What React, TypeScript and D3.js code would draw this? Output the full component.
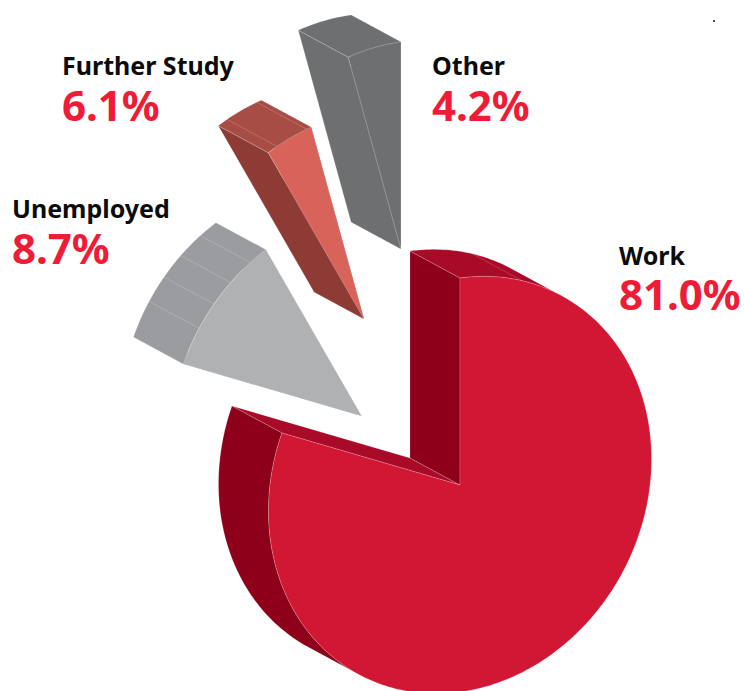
import React from 'react';
import * as d3 from 'd3';

// values printed on the chart
const categories = ['Work', 'Unemployed', 'Further Study', 'Other'];
const printedValues = ['81.0%', '8.7%', '6.1%', '4.2%'];
// sweep of each slice as actually drawn in the picture (share of the circle)
const drawnShares = [81, 10.67, 3.89, 4.44];

// rim facet lines, degrees clockwise from the top
const facetAngles = [
  [19],
  [302, 309.6, 316.9, 324.5],
  [333, 342.6],
  [],
];

const topColors = ['#d11733', '#b0b1b3', '#d8635a', '#6e6f71'];
const rimColors = ['#8e001a', '#9b9c9f', '#a84d45', '#6e6f71'];
const rimAltColors = ['#a90a28', '#9b9c9f', '#a84d45', '#6e6f71'];
const startWallColors = ['#8e001a', '#8b8c8f', '#8e3b35', '#6e6f71'];
const endWallColors = ['#a90a28', '#8b8c8f', '#8e3b35', '#6e6f71'];

const width = 744;
const height = 691;
const center = { x: 460, y: 485 };
const explode = [
  [0, 0],
  [-98.5, -69],
  [-96, -166],
  [-59, -236],
];
const depth = { x: -50, y: -27 };
// axes of the tilted circle
const right = { x: 191.5, y: -26 };
const up = { x: 0, y: -207 };
// the part of the rim that faces the viewer
const rimFrom = 212;
const rimTo = 392;

const labelPos = [
  { x: 619, name: 265, value: 310 },
  { x: 12, name: 218, value: 264 },
  { x: 62, name: 75, value: 121 },
  { x: 432, name: 75, value: 121 },
];

const rad = d3.scaleLinear().domain([0, 360]).range([0, 2 * Math.PI]);
const deg = d3.scaleLinear().domain([0, 2 * Math.PI]).range([0, 360]);

const slices = d3
  .pie<number>()
  .sort(null)
  .startAngle(0)
  .endAngle(2 * Math.PI)(drawnShares);

const line = d3
  .line<[number, number]>()
  .x((d) => d[0])
  .y((d) => d[1]);

function sweep(from: number, to: number): number[] {
  const n = Math.max(2, Math.ceil(to - from));
  return d3.range(n + 1).map((i) => from + ((to - from) * i) / n);
}

function project(a: number, ox: number, oy: number): [number, number] {
  const s = Math.sin(rad(a));
  const c = Math.cos(rad(a));
  return [ox + s * right.x + c * up.x, oy + s * right.y + c * up.y];
}

const edge = { stroke: '#fff', strokeOpacity: 0.3, strokeWidth: 0.6 };

function Slice({ i }: { i: number }) {
  const start = deg(slices[i].startAngle);
  const end = deg(slices[i].endAngle);
  const ox = center.x + explode[i][0];
  const oy = center.y + explode[i][1];
  const bx = ox + depth.x;
  const by = oy + depth.y;
  const apex: [number, number] = [ox, oy];
  const backApex: [number, number] = [bx, by];

  const wall = (a: number) =>
    `${line([apex, project(a, ox, oy), project(a, bx, by), backApex])}Z`;
  const rim = (from: number, to: number) =>
    `${line([
      ...sweep(from, to).map((a) => project(a, ox, oy)),
      ...sweep(from, to)
        .reverse()
        .map((a) => project(a, bx, by)),
    ])}Z`;
  const top = `${line([apex, ...sweep(start, end).map((a) => project(a, ox, oy))])}Z`;

  const mainFrom = Math.max(start, rimFrom);
  const altTo = rimTo - 360;

  return (
    <g>
      <path d={wall(end)} fill={endWallColors[i]} {...edge} />
      <path d={wall(start)} fill={startWallColors[i]} {...edge} />
      {start < altTo && <path d={rim(start, altTo)} fill={rimAltColors[i]} {...edge} />}
      {end > rimFrom && <path d={rim(mainFrom, end)} fill={rimColors[i]} {...edge} />}
      {facetAngles[i].map((a) => (
        <path key={a} d={line([project(a, ox, oy), project(a, bx, by)]) as string} fill="none" {...edge} />
      ))}
      <path d={top} fill={topColors[i]} {...edge} />
    </g>
  );
}

export default function App() {
  return (
    <svg
      width={width}
      height={height}
      style={{ position: 'absolute', left: 0, top: 0, display: 'block', background: '#fff' }}
    >
      {[3, 2, 1, 0].map((i) => (
        <Slice key={categories[i]} i={i} />
      ))}
      {categories.map((name, i) => (
        <g key={name} fontFamily="'Noto Sans', sans-serif" fontWeight={700}>
          <text x={labelPos[i].x} y={labelPos[i].name} fontSize={25} fill="#0b0b0b">
            {name}
          </text>
          <text x={labelPos[i].x} y={labelPos[i].value} fontSize={42} fill="#ee1c36">
            {printedValues[i]}
          </text>
        </g>
      ))}
      <circle cx={714} cy={21} r={1} fill="#111" />
    </svg>
  );
}
